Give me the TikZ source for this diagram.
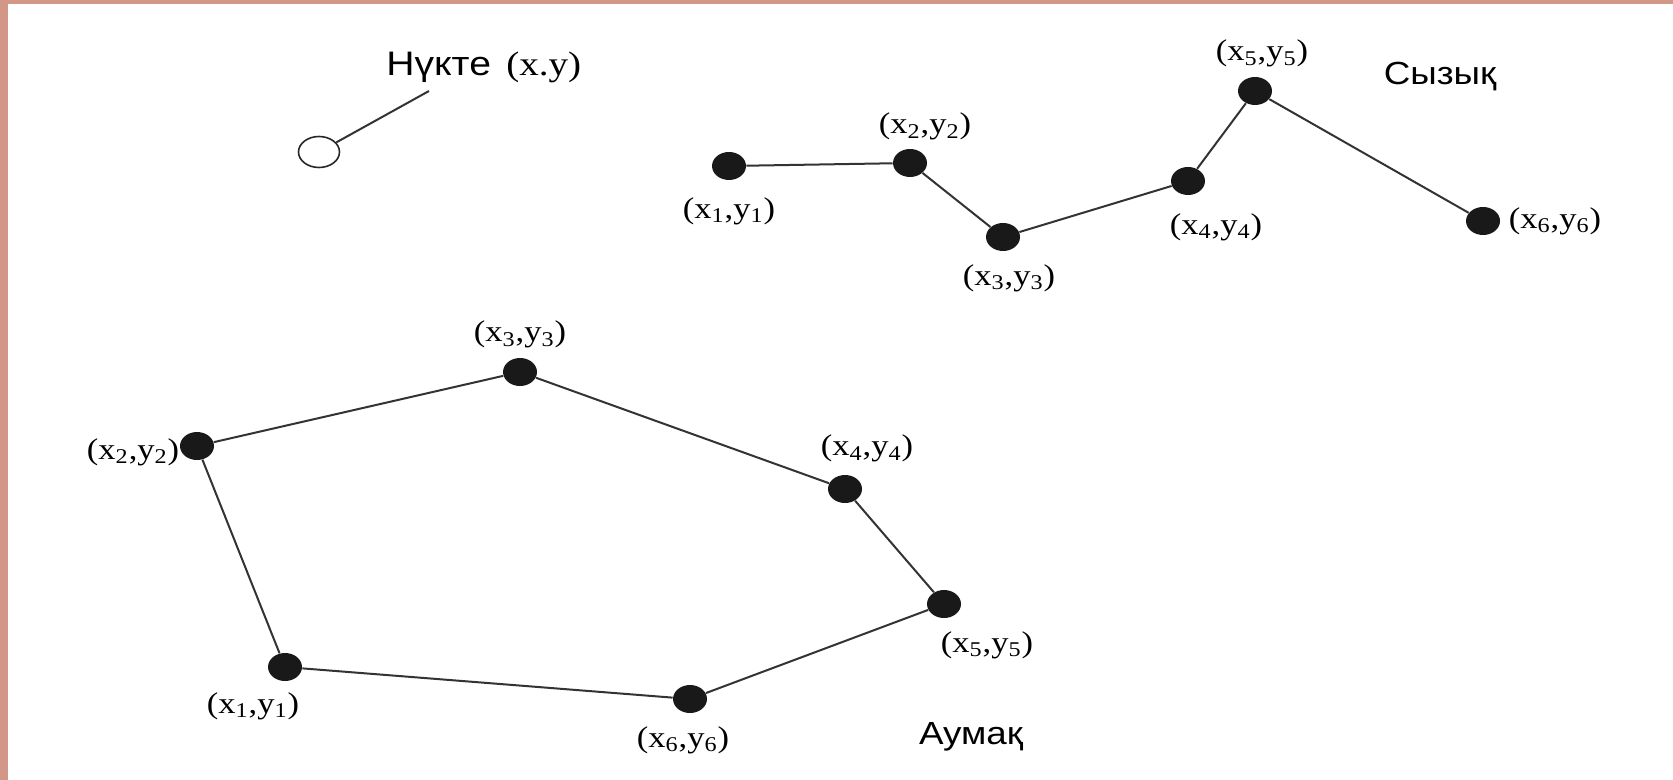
\documentclass[tikz,border=0pt]{standalone}
\usepackage{fontspec}
\setmainfont{Liberation Serif}[FakeStretch=1.15]
\setsansfont{Liberation Sans}[FakeStretch=1.15]
\usetikzlibrary{positioning,shapes.geometric}
\definecolor{framepink}{RGB}{211,151,135}

\begin{document}
\begin{tikzpicture}[x=0.5pt, y=-0.5pt, node distance=5pt,
  dot/.style={ellipse, fill=black!90, inner sep=0pt, minimum width=17pt, minimum height=14pt},
  hollow/.style={ellipse, draw=black!85, line width=0.8pt, fill=white, inner sep=0pt, minimum width=20.5pt, minimum height=15.5pt},
  lbl/.style={inner sep=0pt, font=\fontsize{15}{17}\selectfont},
  word/.style={inner sep=0pt, font=\sffamily\fontsize{16}{19}\selectfont},
  seg/.style={draw=black!80, line width=1pt}]
  \useasboundingbox (0,0) rectangle (1673,780);
  \fill[framepink] (0,0) rectangle (8,780);
  \fill[framepink] (0,0) rectangle (1673,4);

  % point
  \node[hollow] (pt) at (319,152) {};
  \node[word, anchor=base west] (ptname) at (386,76) {\fontsize{17}{19}\selectfont Нүкте\hspace{0.45em}\rmfamily(x.y)};
  \coordinate (pttip) at (429,91);
  \draw[seg] (pt) -- (pttip);

  % line
  \node[dot] (l1) at (729,166) {};
  \node[dot] (l2) at (910,163) {};
  \node[dot] (l3) at (1003,237) {};
  \node[dot] (l4) at (1188,181) {};
  \node[dot] (l5) at (1255,91) {};
  \node[dot] (l6) at (1483,221) {};
  \node[lbl, below=8.5pt of l1] (l1t) {(x\textsubscript{1},y\textsubscript{1})};
  \node[lbl, above=4pt of l2, xshift=7.5pt] (l2t) {(x\textsubscript{2},y\textsubscript{2})};
  \node[lbl, below=6.5pt of l3, xshift=3pt] (l3t) {(x\textsubscript{3},y\textsubscript{3})};
  \node[lbl, below=9pt of l4, xshift=14pt] (l4t) {(x\textsubscript{4},y\textsubscript{4})};
  \node[lbl, above=4.5pt of l5, xshift=3.5pt] (l5t) {(x\textsubscript{5},y\textsubscript{5})};
  \node[lbl, right=4pt of l6] (l6t) {(x\textsubscript{6},y\textsubscript{6})};
  \node[word] (linename) at (1440,77) {Сызық};
  \draw[seg] (l1) -- (l2) -- (l3) -- (l4) -- (l5) -- (l6);

  % area
  \node[dot] (a1) at (285,667) {};
  \node[dot] (a2) at (197,446) {};
  \node[dot] (a3) at (520,372) {};
  \node[dot] (a4) at (845,489) {};
  \node[dot] (a5) at (944,604) {};
  \node[dot] (a6) at (690,699) {};
  \node[lbl, below=5.5pt of a1, xshift=-16pt] (a1t) {(x\textsubscript{1},y\textsubscript{1})};
  \node[lbl, left=0pt of a2, yshift=-3pt] (a2t) {(x\textsubscript{2},y\textsubscript{2})};
  \node[lbl, above=4.5pt of a3] (a3t) {(x\textsubscript{3},y\textsubscript{3})};
  \node[lbl, above=6pt of a4, xshift=11pt] (a4t) {(x\textsubscript{4},y\textsubscript{4})};
  \node[lbl, below=6.5pt of a5, xshift=21.5pt] (a5t) {(x\textsubscript{5},y\textsubscript{5})};
  \node[lbl, below=6.5pt of a6, xshift=-3.5pt] (a6t) {(x\textsubscript{6},y\textsubscript{6})};
  \node[word] (areaname) at (971,737) {Аумақ};
  \draw[seg] (a1) -- (a2) -- (a3) -- (a4) -- (a5) -- (a6) -- (a1);
\end{tikzpicture}
\end{document}
